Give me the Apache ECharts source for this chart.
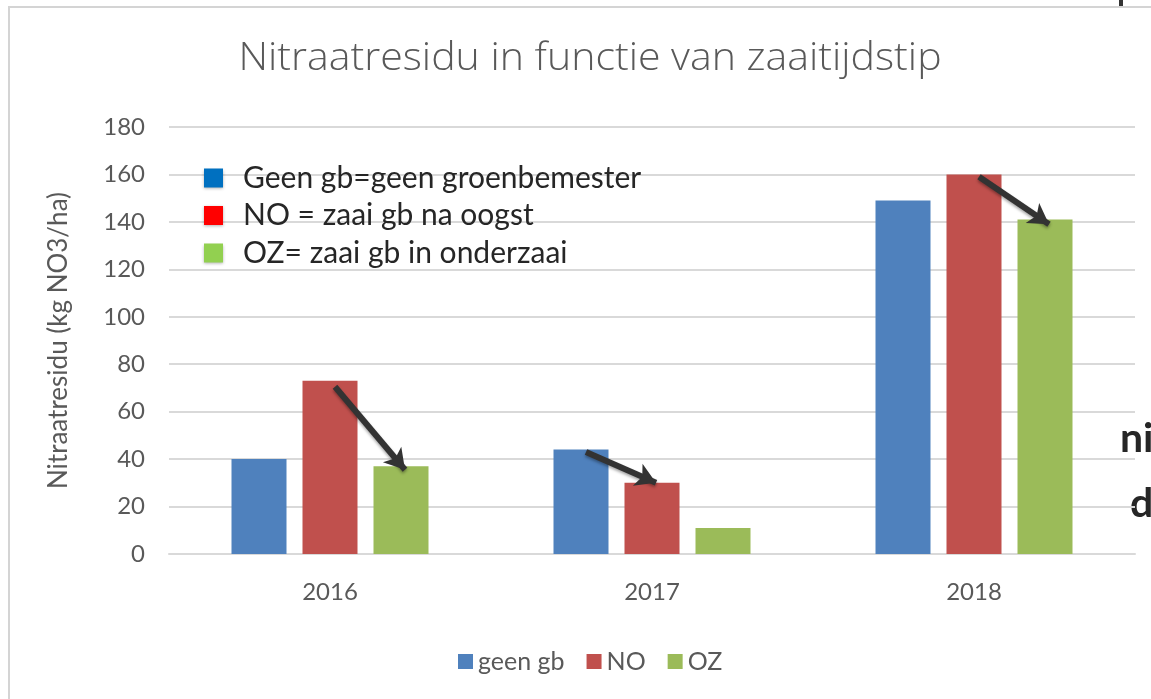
<!DOCTYPE html>
<html><head><meta charset="utf-8">
<script src="https://cdn.jsdelivr.net/npm/echarts@6/dist/echarts.min.js"></script>
<style>html,body{margin:0;padding:0;background:#fff}#c{width:1151px;height:699px}</style>
</head><body><div id="c"></div>
<script>
// ---- data ----
const categories = ['2016', '2017', '2018'];
const seriesNames = ['geen gb', 'NO', 'OZ'];
const geenGb = [40, 44, 149];
const noValues = [73, 30, 160];
const ozValues = [37, 11, 141];
const yMin = 0, yMax = 180, yInterval = 20;
const titleText = 'Nitraatresidu in functie van zaaitijdstip';
const yAxisName = 'Nitraatresidu (kg NO3/ha)';
const noteLabels = ['Geen gb=geen groenbemester', 'NO = zaai gb na oogst', 'OZ= zaai gb in onderzaai'];
const noteColors = ['#0070c0', '#ff0000', '#92d050'];
const sideText = ['ni', 'd'];
// arrows: category, from series index, from value, to series index, to value
const arrowsData = [
  ['2016', 1, 70.5, 2, 35.5],
  ['2017', 0, 43, 1, 30],
  ['2018', 1, 159, 2, 139]
];

// ---- style ----
const barColors = ['#4f81bd', '#c0504d', '#9bbb59'];
const FONT = 'Lato, "Open Sans", sans-serif';
const BAR_W = 55, GAP = 16;
const seriesData = [geenGb, noValues, ozValues];

const chart = echarts.init(document.getElementById('c'), null, {renderer: 'canvas'});

const graphics = [
  {type: 'rect', shape: {x: 9, y: 7, width: 1300, height: 900}, style: {fill: 'none', stroke: '#d4d4d4', lineWidth: 2}, silent: true, z: 0},
  {type: 'rect', shape: {x: 1119, y: 0, width: 4, height: 6}, style: {fill: '#333'}, silent: true},
  {type: 'text', x: 590, y: 59, scaleX: 1.08, style: {text: titleText, font: '300 38px "Open Sans", sans-serif', fill: '#595959', align: 'center', verticalAlign: 'middle'}},
];
noteLabels.forEach((t, i) => {
  const cy = 178 + i * 37.5;
  graphics.push({type: 'rect', shape: {x: 204, y: cy - 9.5, width: 19, height: 19}, style: {fill: noteColors[i], shadowBlur: 3, shadowColor: 'rgba(0,0,0,0.3)', shadowOffsetY: 1}, z: 10});
  graphics.push({type: 'text', x: 243, y: cy, style: {text: t, font: '30px ' + FONT, fill: '#262626', verticalAlign: 'middle'}, z: 10});
});
graphics.push({type: 'text', x: 1120, y: 439, style: {text: sideText[0], font: 'bold 41px ' + FONT, fill: '#262626', verticalAlign: 'middle'}});
graphics.push({type: 'text', x: 1130, y: 504, style: {text: sideText[1], font: 'bold 41px ' + FONT, fill: '#262626', verticalAlign: 'middle'}});

const option = {
  animation: false,
  backgroundColor: '#fff',
  grid: {left: 169, right: 16, top: 127, bottom: 145, containLabel: false},
  legend: {
    data: seriesNames, left: 453, top: 644, itemWidth: 15, itemHeight: 15, itemGap: 22,
    icon: 'rect', textStyle: {fontFamily: FONT, fontSize: 25, color: '#595959'}
  },
  xAxis: {
    type: 'category', data: categories,
    axisLine: {lineStyle: {color: '#d9d9d9', width: 2}},
    axisTick: {show: false},
    axisLabel: {fontFamily: FONT, fontSize: 24, color: '#595959', margin: 26}
  },
  yAxis: {
    type: 'value', min: yMin, max: yMax, interval: yInterval,
    name: yAxisName, nameLocation: 'middle', nameRotate: 90, nameGap: 97,
    nameTextStyle: {fontFamily: FONT, fontSize: 26, color: '#595959'},
    axisLine: {show: false}, axisTick: {show: false},
    axisLabel: {fontFamily: FONT, fontSize: 24, color: '#595959', margin: 24},
    splitLine: {lineStyle: {color: '#d9d9d9', width: 2}}
  },
  series: seriesNames.map((n, i) => ({
    name: n, type: 'bar', data: seriesData[i], barWidth: BAR_W, barGap: (GAP / BAR_W * 100) + '%',
    itemStyle: {color: barColors[i]}
  })),
  graphic: graphics
};
chart.setOption(option);

// arrows computed from data positions
const off = i => (i - 1) * (BAR_W + GAP);
const lines = arrowsData.map(a => {
  const p1 = chart.convertToPixel({xAxisIndex: 0, yAxisIndex: 0}, [a[0], a[2]]);
  const p2 = chart.convertToPixel({xAxisIndex: 0, yAxisIndex: 0}, [a[0], a[4]]);
  return [{x: p1[0] + off(a[1]) + 5, y: p1[1]}, {x: p2[0] + off(a[3]) + 4, y: p2[1]}];
});
chart.setOption({series: [{
  markLine: {
    silent: true, symbol: ['none', 'arrow'], symbolSize: [18, 20], label: {show: false},
    lineStyle: {color: '#333', width: 6, type: 'solid', shadowBlur: 3, shadowColor: 'rgba(0,0,0,0.35)', shadowOffsetY: 2},
    data: lines, z: 20
  }
}]});
</script></body></html>
